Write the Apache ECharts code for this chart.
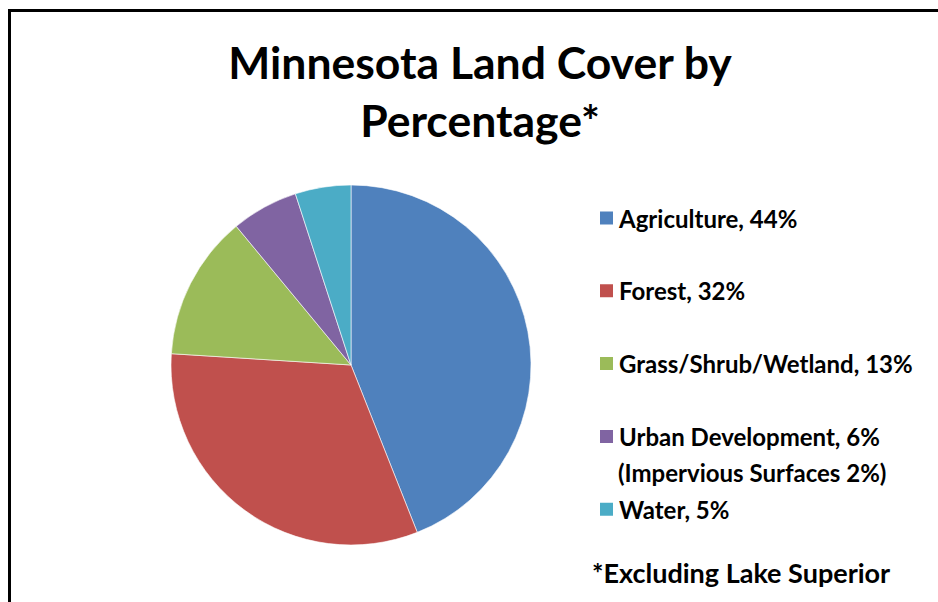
<!DOCTYPE html>
<html>
<head>
<meta charset="utf-8">
<script src="https://cdn.jsdelivr.net/npm/echarts@6/dist/echarts.min.js"></script>
<style>
html,body{margin:0;padding:0;background:#fff;}
#chart{width:938px;height:602px;}
</style>
</head>
<body>
<div id="chart"></div>
<script>
const titleLines = ['Minnesota Land Cover by', 'Percentage*'];
const categories = ['Agriculture', 'Forest', 'Grass/Shrub/Wetland', 'Urban Development', 'Water'];
const values = [44, 32, 13, 6, 5];
const colors = ['#4F81BD', '#C0504D', '#9BBB59', '#8064A2', '#4BACC6'];
const urbanNote = '(Impervious Surfaces 2%)';
const footnote = '*Excluding Lake Superior';

const FONT = 'Lato, "Open Sans", sans-serif';
const chart = echarts.init(document.getElementById('chart'), null, {renderer: 'svg'});
const valueByName = {};
categories.forEach((c, i) => valueByName[c] = values[i]);

chart.setOption({
  animation: false,
  backgroundColor: '#ffffff',
  title: {
    text: titleLines.join('\n'),
    left: 480,
    top: 32,
    padding: 0,
    textAlign: 'center',
    textStyle: {
      fontFamily: FONT,
      fontWeight: 'bold',
      fontSize: 44.5,
      lineHeight: 58,
      color: '#000'
    }
  },
  legend: {
    orient: 'vertical',
    left: 598,
    top: 205,
    padding: 0,
    itemWidth: 15,
    itemHeight: 15,
    itemGap: 46.8,
    icon: 'rect',
    selectedMode: false,
    data: categories,
    formatter: name => name + ', ' + valueByName[name] + '%',
    textStyle: {
      fontFamily: FONT,
      fontWeight: 'bold',
      fontSize: 24,
      lineHeight: 26,
      color: '#000'
    }
  },
  graphic: [
    {
      type: 'polyline',
      shape: {points: [[9.5, 602], [9.5, 10.5], [938, 10.5]]},
      style: {stroke: '#000', lineWidth: 3, fill: null},
      silent: true
    },
    {
      type: 'text',
      x: 618,
      y: 472,
      style: {
        text: urbanNote,
        fontFamily: FONT,
        fontWeight: 'bold',
        fontSize: 24,
        fill: '#000',
        verticalAlign: 'middle',
        align: 'left'
      },
      silent: true
    },
    {
      type: 'text',
      x: 592,
      y: 572,
      style: {
        text: footnote,
        fontFamily: FONT,
        fontWeight: 'bold',
        fontSize: 27,
        fill: '#000',
        verticalAlign: 'middle',
        align: 'left'
      },
      silent: true
    }
  ],
  series: [{
    type: 'pie',
    center: [351, 365],
    radius: 180,
    startAngle: 90,
    clockwise: true,
    label: {show: false},
    labelLine: {show: false},
    emphasis: {disabled: true},
    itemStyle: {borderColor: '#ffffff', borderWidth: 0.6},
    data: categories.map((c, i) => ({name: c, value: values[i], itemStyle: {color: colors[i]}}))
  }]
});
</script>
</body>
</html>
